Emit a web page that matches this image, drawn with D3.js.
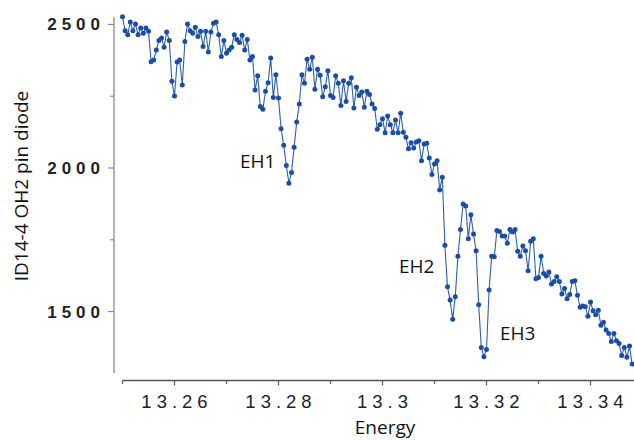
<!DOCTYPE html>
<html>
<head>
  <meta charset="utf-8">
  <title>ID14-4 OH2 pin diode vs Energy</title>
  <script src="https://cdn.jsdelivr.net/npm/d3@7"></script>
  <style>
    body { margin: 0; background: #fff; }
    svg { display: block; }
    .tick-num { font-family: "Liberation Sans", Arial, sans-serif; fill: #222; }
    .title { font-family: "Open Sans", "Noto Sans", sans-serif; fill: #111; font-size: 19px; }
  </style>
</head>
<body>
<svg id="chart" width="634" height="441"></svg>
<script>
  // energy grid: first sample and step (eV)
  var energyStart = 13.25;
  var energyStep = 0.0005;

  // pin diode counts
  var diode = [
    2527, 2478, 2464, 2509, 2478, 2502, 2464, 2488, 2469, 2488,
    2476, 2370, 2376, 2411, 2444, 2453, 2421, 2474, 2444, 2302,
    2251, 2369, 2376, 2289, 2441, 2502, 2478, 2469, 2490, 2458,
    2476, 2423, 2476, 2404, 2474, 2504, 2509, 2464, 2388, 2444,
    2400, 2411, 2421, 2464, 2448, 2437, 2462, 2411, 2448, 2376,
    2388, 2272, 2321, 2214, 2205, 2267, 2297, 2383, 2246, 2325,
    2244, 2137, 2079, 2009, 1947, 1984, 2072, 2160, 2223, 2325,
    2295, 2379, 2344, 2386, 2274, 2344, 2323, 2248, 2283, 2339,
    2253, 2246, 2321, 2295, 2218, 2304, 2232, 2295, 2314, 2209,
    2281, 2253, 2265, 2212, 2267, 2256, 2223, 2207, 2135, 2151,
    2172, 2123, 2181, 2151, 2123, 2167, 2123, 2191, 2125, 2107,
    2067, 2088, 2070, 2091, 2095, 2025, 2084, 2086, 2035, 1977,
    2014, 2025, 1923, 1968, 1731, 1586, 1540, 1473, 1552, 1693,
    1786, 1875, 1868, 1754, 1837, 1770, 1712, 1524, 1375, 1343,
    1368, 1575, 1693, 1691, 1782, 1779, 1763, 1763, 1738, 1786,
    1777, 1786, 1710, 1693, 1728, 1712, 1642, 1745, 1754, 1614,
    1619, 1693, 1633, 1624, 1638, 1596, 1605, 1621, 1605, 1561,
    1580, 1545, 1559, 1605, 1607, 1557, 1515, 1519, 1517, 1484,
    1533, 1503, 1489, 1505, 1452, 1463, 1436, 1424, 1396, 1424,
    1398, 1389, 1347, 1375, 1341, 1380, 1317
  ];

  var xTicks = [13.25, 13.26, 13.27, 13.28, 13.29, 13.3, 13.31, 13.32, 13.33, 13.34];
  var xLabels = [13.26, 13.28, 13.3, 13.32, 13.34];
  var yTicks = [1500, 1750, 2000, 2250, 2500];
  var yLabels = [1500, 2000, 2500];

  var notes = [
    {text: 'EH1', x: 240, y: 168},
    {text: 'EH2', x: 399, y: 273},
    {text: 'EH3', x: 500, y: 340}
  ];

  var data = diode.map(function (v, i) {
    return {e: energyStart + i * energyStep, v: v};
  });

  var svg = d3.select('#chart');

  var x = d3.scaleLinear().domain([13.25, 13.3485]).range([122.5, 634.7]);
  var y = d3.scaleLinear().domain([1286, 2526]).range([373, 17]);

  // x axis, detached below the plot
  var xAxis = svg.append('g').attr('transform', 'translate(0,380.5)');
  xAxis.append('line')
    .attr('x1', x.range()[0]).attr('x2', x.range()[1])
    .attr('stroke', '#555').attr('stroke-width', 1.3);
  xAxis.selectAll('.xt').data(xTicks).enter().append('line')
    .attr('x1', function (d) { return x(d); })
    .attr('x2', function (d) { return x(d); })
    .attr('y1', 0)
    .attr('y2', function (d) { return xLabels.indexOf(d) >= 0 ? 5 : 3.5; })
    .attr('stroke', '#555').attr('stroke-width', 1.2);
  xAxis.selectAll('.xl').data(xLabels).enter().append('text')
    .attr('class', 'tick-num')
    .attr('x', function (d) { return x(d) + 2.5; })
    .attr('y', 27.5)
    .attr('text-anchor', 'middle')
    .style('font-size', '18.5px')
    .style('letter-spacing', '5px')
    .text(function (d) { return String(+d.toFixed(2)); });

  // y axis
  var yAxis = svg.append('g').attr('transform', 'translate(114,0)');
  yAxis.append('line')
    .attr('y1', y.range()[0]).attr('y2', y.range()[1])
    .attr('stroke', '#888').attr('stroke-width', 1.3);
  yAxis.selectAll('.yt').data(yTicks).enter().append('line')
    .attr('y1', function (d) { return y(d); })
    .attr('y2', function (d) { return y(d); })
    .attr('x1', 0)
    .attr('x2', function (d) { return yLabels.indexOf(d) >= 0 ? -6 : -4; })
    .attr('stroke', '#888').attr('stroke-width', 1.2);
  yAxis.selectAll('.yl').data(yLabels).enter().append('text')
    .attr('class', 'tick-num')
    .attr('x', -9)
    .attr('y', function (d) { return y(d) + 6; })
    .attr('text-anchor', 'end')
    .style('font-size', '17px')
    .style('font-weight', 'bold')
    .style('letter-spacing', '5px')
    .text(function (d) { return d; });

  // axis titles
  svg.append('text').attr('class', 'title')
    .attr('x', 385).attr('y', 434)
    .attr('text-anchor', 'middle')
    .text('Energy');
  svg.append('text').attr('class', 'title')
    .attr('transform', 'translate(28,186) rotate(-90)')
    .attr('text-anchor', 'middle')
    .text('ID14-4 OH2 pin diode');

  // data line and markers
  var line = d3.line()
    .x(function (d) { return x(d.e); })
    .y(function (d) { return y(d.v); });

  svg.append('path')
    .datum(data)
    .attr('d', line)
    .attr('fill', 'none')
    .attr('stroke', '#2d5eb2')
    .attr('stroke-width', 1.1);

  svg.selectAll('circle').data(data).enter().append('circle')
    .attr('cx', function (d) { return x(d.e); })
    .attr('cy', function (d) { return y(d.v); })
    .attr('r', 2.5)
    .attr('fill', '#1b4ea3');

  svg.selectAll('.note').data(notes).enter().append('text')
    .attr('class', 'title')
    .attr('x', function (d) { return d.x; })
    .attr('y', function (d) { return d.y; })
    .text(function (d) { return d.text; });
</script>
</body>
</html>
